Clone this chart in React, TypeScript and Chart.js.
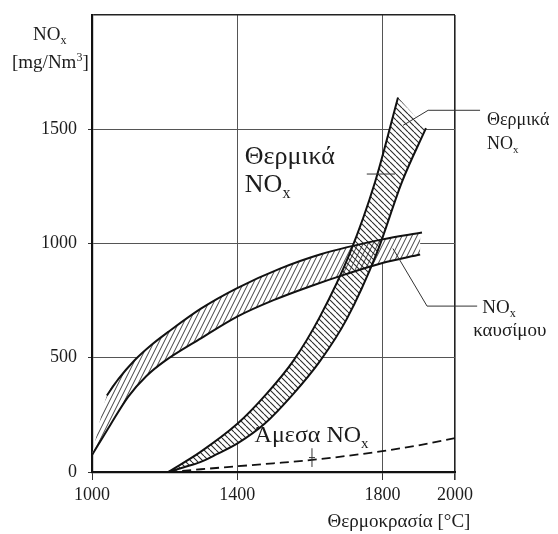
import React, { useEffect, useRef } from 'react';
import { Chart, registerables } from 'chart.js';

Chart.register(...registerables);

// ---------- data ----------
const xTickValues = [1000, 1400, 1800, 2000];
const yTickValues = [0, 500, 1000, 1500, 2000];

// NOx καυσίμου band
const fuelLowerX = [1000, 1050, 1100, 1150, 1200, 1300, 1400, 1500, 1600, 1700, 1800, 1904];
const fuelLowerY = [74, 205, 330, 420, 485, 585, 680, 752, 812, 866, 915, 952];
const fuelUpperX = [1041, 1072, 1118, 1165, 1209, 1300, 1400, 1518, 1628, 1800, 1909];
const fuelUpperY = [335, 405, 490, 558, 612, 715, 805, 890, 952, 1018, 1048];

// Θερμικά NOx band
const thermOuterX = [1210, 1298, 1402, 1477, 1554, 1628, 1711, 1780, 1843];
const thermOuterY = [0, 87, 213, 335, 485, 680, 960, 1270, 1639];
const thermInnerX = [1210, 1251, 1298, 1344, 1402, 1477, 1551, 1628, 1702, 1785, 1854, 1920];
const thermInnerY = [0, 20, 43, 78, 126, 213, 335, 485, 670, 960, 1270, 1505];
const thermCapX = [1843, 1920];
const thermCapY = [1639, 1505];

// Άμεσα NOx (dashed)
const directX = [1210, 1300, 1400, 1500, 1600, 1700, 1800, 1900, 2000];
const directY = [0, 12, 25, 38, 52, 70, 91, 117, 148];

// leader lines (data coordinates)
const leaderFuel = [[1829, 978], [1923, 726], [2061, 726]];
const leaderThermOuter = [[1857, 1517], [1926, 1583], [2069, 1583]];
const leaderThermInner = [[1757, 1304], [1835, 1304]];
const arrowDirectX = 1606;
const arrowDirectY = [104, 22];

const FONT = '"Liberation Serif", "DejaVu Serif", serif';
const INK = '#1c1c1c';

type Run = [string, number];

function pts(xs: number[], ys: number[]) {
  return xs.map((x, i) => ({ x, y: ys[i] }));
}

function drawRich(ctx: CanvasRenderingContext2D, x: number, y: number, runs: Run[], size: number) {
  let cx = x;
  for (const [t, m] of runs) {
    const s = m === 0 ? size : Math.round(size * 0.62);
    ctx.font = `${s}px ${FONT}`;
    const dy = m === 1 ? size * 0.22 : m === 2 ? -size * 0.36 : 0;
    ctx.fillText(t, cx, y + dy);
    cx += ctx.measureText(t).width;
  }
}

function makePattern(kind: 'fwd' | 'back', bg: string | null): CanvasPattern | string {
  const c = document.createElement('canvas');
  const w = kind === 'fwd' ? 5 : 6;
  const h = kind === 'fwd' ? 10 : 6;
  c.width = w;
  c.height = h;
  const g = c.getContext('2d')!;
  if (bg) {
    g.fillStyle = bg;
    g.fillRect(0, 0, w, h);
  }
  g.strokeStyle = '#2a2a2a';
  g.lineWidth = kind === 'fwd' ? 0.9 : 1.1;
  g.beginPath();
  for (const off of [-w, 0, w]) {
    if (kind === 'fwd') {
      g.moveTo(off, h);
      g.lineTo(off + w, 0);
    } else {
      g.moveTo(off, 0);
      g.lineTo(off + w, h);
    }
  }
  g.stroke();
  const p = g.createPattern(c, 'repeat');
  return p || '#999';
}

const annotPlugin = {
  id: 'annot',
  afterDatasetsDraw(chart: any) {
    const { ctx, scales } = chart;
    const xs = scales.x;
    const ys = scales.y;
    const px = (v: number) => xs.getPixelForValue(v);
    const py = (v: number) => ys.getPixelForValue(v);
    ctx.save();
    ctx.strokeStyle = '#333';
    ctx.lineWidth = 1;
    for (const path of [leaderFuel, leaderThermOuter, leaderThermInner]) {
      ctx.beginPath();
      path.forEach(([a, b], i) => (i ? ctx.lineTo(px(a), py(b)) : ctx.moveTo(px(a), py(b))));
      ctx.stroke();
    }
    // small arrow mark on the dashed line
    ctx.beginPath();
    ctx.moveTo(px(arrowDirectX), py(arrowDirectY[0]));
    ctx.lineTo(px(arrowDirectX), py(arrowDirectY[1]));
    ctx.moveTo(px(arrowDirectX) - 3, py((arrowDirectY[0] + arrowDirectY[1]) / 2));
    ctx.lineTo(px(arrowDirectX) + 3, py((arrowDirectY[0] + arrowDirectY[1]) / 2));
    ctx.stroke();

    ctx.fillStyle = INK;
    ctx.textBaseline = 'alphabetic';
    ctx.textAlign = 'left';
    // inner label
    drawRich(ctx, px(1421), py(1348), [['Θερμικά', 0]], 26);
    drawRich(ctx, px(1421), py(1226), [['NO', 0], ['x', 1]], 26);
    // outer thermal label
    drawRich(ctx, px(2088), py(1517), [['Θερμικά', 0]], 18);
    drawRich(ctx, px(2088), py(1413), [['NO', 0], ['x', 1]], 18);
    // fuel label
    drawRich(ctx, px(2075), py(696), [['NO', 0], ['x', 1]], 19);
    drawRich(ctx, px(2050), py(596), [['καυσίμου', 0]], 19);
    // direct label
    drawRich(ctx, px(1448), py(130), [['Άμεσα NO', 0], ['x', 1]], 24);

    // axis titles
    drawRich(ctx, 33, 40, [['NO', 0], ['x', 1]], 19);
    drawRich(ctx, 12, 68, [['[mg/Nm', 0], ['3', 2], [']', 0]], 19);
    ctx.font = `19px ${FONT}`;
    ctx.textAlign = 'center';
    ctx.fillText('Θερμοκρασία [°C]', 399, 527);
    ctx.restore();
  },
};

export default function App() {
  const ref = useRef<HTMLCanvasElement | null>(null);

  useEffect(() => {
    if (!ref.current) return;
    const hatchFwd = makePattern('fwd', null);
    const hatchBack = makePattern('back', null);

    const lineBase = {
      pointRadius: 0,
      borderColor: '#111',
      borderWidth: 2,
      fill: false,
      cubicInterpolationMode: 'monotone' as const,
      order: 1,
    };
    const fillBase = {
      pointRadius: 0,
      borderColor: 'rgba(0,0,0,0)',
      borderWidth: 1,
      cubicInterpolationMode: 'monotone' as const,
    };

    const datasets: any[] = [
      { ...lineBase, label: 'fuelUpper', data: pts(fuelUpperX, fuelUpperY) }, // 0
      { ...lineBase, label: 'fuelLower', data: pts(fuelLowerX, fuelLowerY) }, // 1
      { ...lineBase, label: 'thermOuter', data: pts(thermOuterX, thermOuterY) }, // 2
      { ...lineBase, label: 'thermInner', data: pts(thermInnerX, thermInnerY) }, // 3
      {
        ...lineBase,
        label: 'direct',
        data: pts(directX, directY),
        borderDash: [9, 5],
        borderWidth: 1.8,
      }, // 4
      // hatch fills
      {
        ...fillBase,
        label: 'fuelHatch',
        data: pts([fuelLowerX[0], ...fuelUpperX], [fuelLowerY[0], ...fuelUpperY]),
        fill: 1,
        backgroundColor: hatchFwd,
        order: 5,
      },
      {
        ...fillBase,
        label: 'thermHatch',
        data: pts(thermOuterX, thermOuterY),
        fill: 3,
        backgroundColor: hatchBack,
        order: 5,
      },
      {
        ...fillBase,
        label: 'capHatch',
        data: pts(thermCapX, thermCapY),
        cubicInterpolationMode: 'default',
        tension: 0,
        fill: 3,
        backgroundColor: hatchBack,
        order: 5,
      },
      // white under-fills
      {
        ...fillBase,
        label: 'fuelWhite',
        data: pts([fuelLowerX[0], ...fuelUpperX], [fuelLowerY[0], ...fuelUpperY]),
        fill: 1,
        backgroundColor: '#fff',
        order: 8,
      },
      {
        ...fillBase,
        label: 'thermWhite',
        data: pts(thermOuterX, thermOuterY),
        fill: 3,
        backgroundColor: '#fff',
        order: 8,
      },
      {
        ...fillBase,
        label: 'capWhite',
        data: pts(thermCapX, thermCapY),
        cubicInterpolationMode: 'default',
        tension: 0,
        fill: 3,
        backgroundColor: '#fff',
        order: 8,
      },
    ];

    const chart = new Chart(ref.current, {
      type: 'line',
      data: { datasets },
      plugins: [annotPlugin],
      options: {
        animation: false,
        responsive: false,
        devicePixelRatio: 1,
        parsing: false as any,
        layout: { padding: { left: 0, right: 103, top: 15, bottom: 0 } },
        plugins: {
          legend: { display: false },
          tooltip: { enabled: false },
        },
        scales: {
          x: {
            type: 'linear',
            min: 1000,
            max: 2000,
            afterBuildTicks: (s: any) => {
              s.ticks = xTickValues.map((v) => ({ value: v }));
            },
            afterFit: (s: any) => {
              s.height = 62;
              s.paddingLeft = 0;
              s.paddingRight = 0;
            },
            grid: {
              color: (c: any) => (c.tick && c.tick.value === 2000 ? '#222' : '#555'),
              lineWidth: (c: any) => (c.tick && c.tick.value === 2000 ? 1.6 : 1),
              tickLength: 8,
              tickColor: '#333',
            },
            border: { display: true, color: '#111', width: 2.2 },
            ticks: {
              autoSkip: false,
              maxRotation: 0,
              padding: 4,
              color: INK,
              font: { family: FONT, size: 18 },
              callback: (v: any) => String(v),
            },
          },
          y: {
            type: 'linear',
            min: 0,
            max: 2000,
            afterBuildTicks: (s: any) => {
              s.ticks = yTickValues.map((v) => ({ value: v }));
            },
            afterFit: (s: any) => {
              s.width = 92;
              s.paddingTop = 0;
              s.paddingBottom = 0;
            },
            grid: {
              color: (c: any) => (c.tick && c.tick.value === 2000 ? '#222' : '#555'),
              lineWidth: (c: any) => (c.tick && c.tick.value === 2000 ? 1.6 : 1),
              tickLength: 4,
              tickColor: (c: any) => (c.tick && c.tick.value === 2000 ? 'rgba(0,0,0,0)' : '#333'),
            },
            border: { display: true, color: '#111', width: 2.2 },
            ticks: {
              padding: 11,
              color: INK,
              font: { family: FONT, size: 18 },
              callback: (v: any) => (v === 2000 ? '' : String(v)),
            },
          },
        },
      },
    });
    return () => chart.destroy();
  }, []);

  return (
    <div style={{ position: 'fixed', left: 0, top: 0, width: 558, height: 534, background: '#fff' }}>
      <canvas ref={ref} width={558} height={534} style={{ display: 'block', width: 558, height: 534 }} />
    </div>
  );
}
